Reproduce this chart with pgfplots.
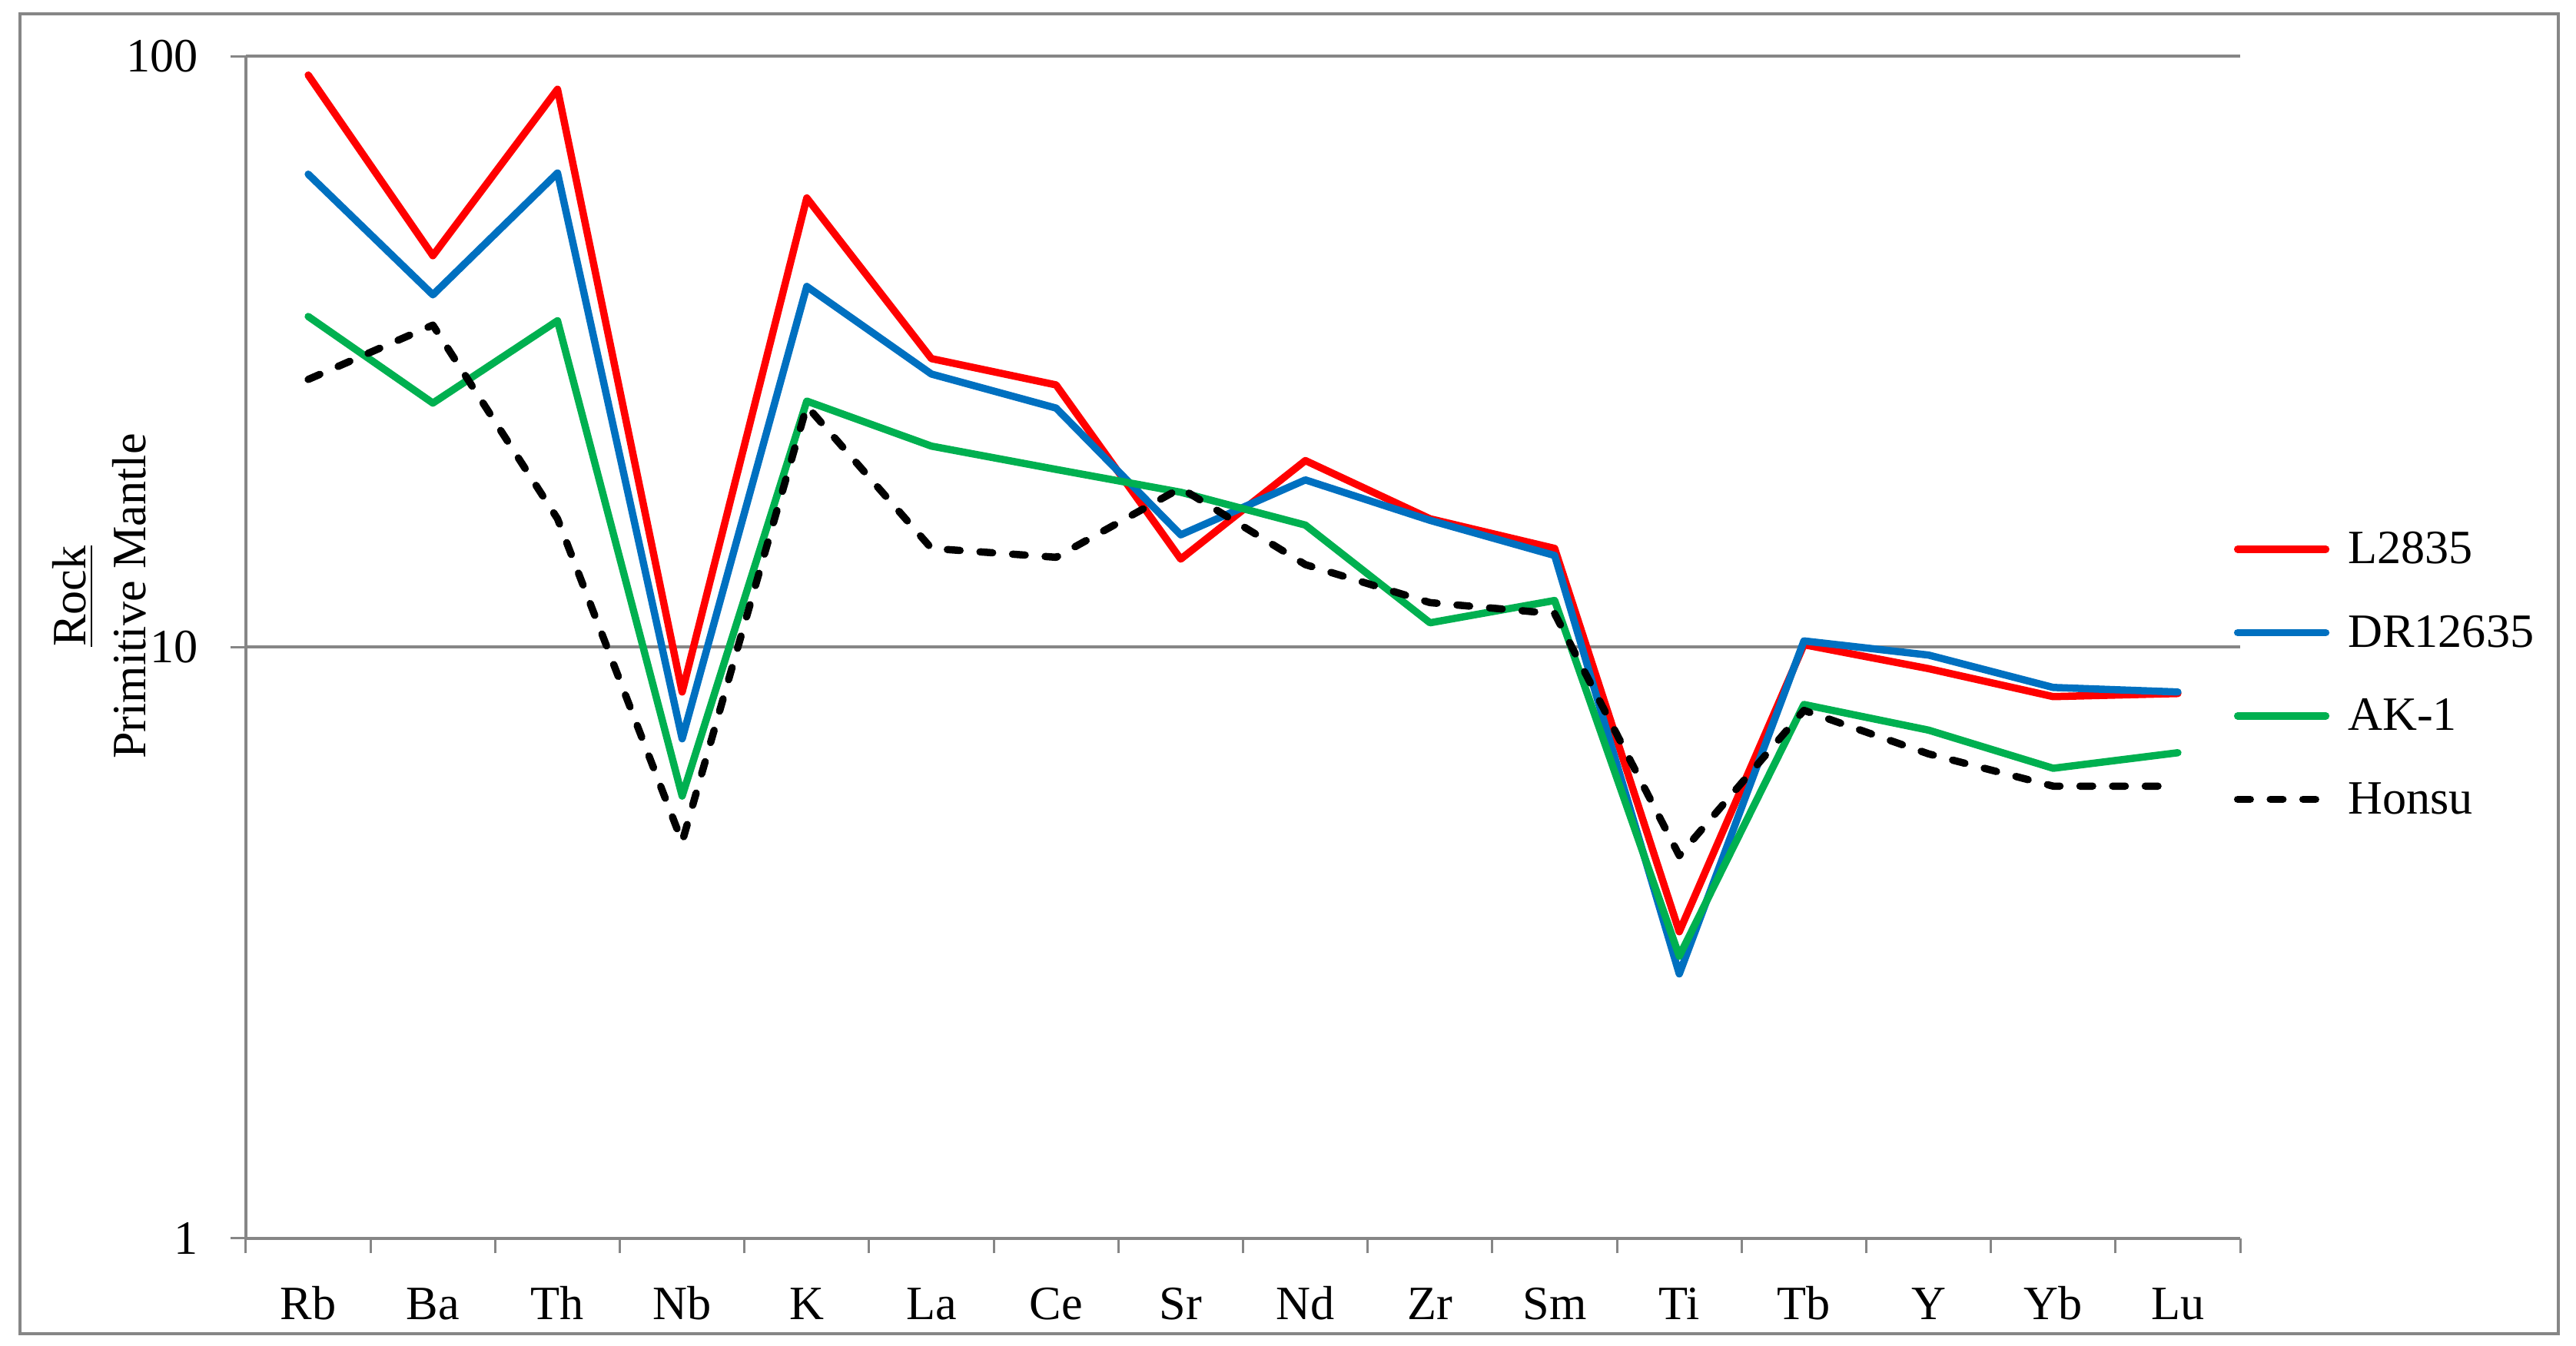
\documentclass[border=0pt]{standalone}
\usepackage{fontspec}
\setmainfont{Liberation Serif}
\usepackage{pgfplots}
\pgfplotsset{compat=1.18}
\definecolor{cRed}{RGB}{255,0,0}
\definecolor{cBlue}{RGB}{0,112,192}
\definecolor{cGreen}{RGB}{0,176,80}
\definecolor{cGray}{RGB}{134,134,134}
\begin{document}
\begin{tikzpicture}[font=\fontsize{12.5}{14.5}\selectfont]
\useasboundingbox (-64bp,-28.1bp) rectangle (606.4bp,322.3bp);
\draw[cGray, line width=0.8bp] (-58.8bp,-24.9bp) rectangle (601.8bp,318.7bp);
\begin{axis}[
  scale only axis, width=519bp, height=307.6bp,
  xmin=-0.5, xmax=15.5, ymode=log, ymin=1, ymax=100,
  axis x line*=bottom, axis y line*=left,
  axis line style={cGray, line width=0.8bp, -},
  xtick={-0.5,0.5,...,15.5}, xticklabels={},
  extra x ticks={0,1,2,3,4,5,6,7,8,9,10,11,12,13,14,15},
  extra x tick labels={Rb,Ba,Th,Nb,K,La,Ce,Sr,Nd,Zr,Sm,Ti,Tb,Y,Yb,Lu},
  extra x tick style={major tick length=0pt, grid=none},
  xticklabel style={anchor=base, inner sep=0pt, yshift=-21.1bp},
  ytick={1,10,100}, yticklabels={1,10,100},
  yminorticks=false,
  tick align=outside, tick pos=left,
  major tick length=4bp,
  tick style={cGray, line width=0.6bp},
  ymajorgrids, major grid style={cGray, line width=0.8bp},
  yticklabel style={anchor=east, inner sep=0pt, xshift=-8.3bp},
  /pgf/number format/assume math mode=true,
  legend style={at={(axis description cs:0.9965,0.5966)}, anchor=north west, draw=none, fill=none, inner sep=0pt, row sep=13.9bp, column sep=4.8bp, nodes={inner sep=0pt, text height=7.8bp, text depth=0pt, anchor=base west}},
  legend image code/.code={\draw[#1] (0.95bp,3.8bp) -- (23.9bp,3.8bp);},
  legend cell align=left,
  every axis plot/.append style={line width=1.9bp, line join=round, line cap=round},
]
\addplot[cRed] coordinates {(0,93.0) (1,46.0) (2,88.0) (3,8.4) (4,57.6) (5,30.8) (6,27.8) (7,14.1) (8,20.7) (9,16.5) (10,14.7) (11,3.3) (12,10.1) (13,9.2) (14,8.25) (15,8.35)};
\addlegendentry{L2835}
\addplot[cBlue] coordinates {(0,63.2) (1,39.5) (2,63.5) (3,7.0) (4,40.8) (5,29.0) (6,25.4) (7,15.5) (8,19.2) (9,16.4) (10,14.3) (11,2.8) (12,10.25) (13,9.7) (14,8.55) (15,8.4)};
\addlegendentry{DR12635}
\addplot[cGreen] coordinates {(0,36.3) (1,25.9) (2,35.7) (3,5.6) (4,26.1) (5,21.9) (6,20.0) (7,18.3) (8,16.1) (9,11.0) (10,12.0) (11,3.0) (12,8.0) (13,7.24) (14,6.24) (15,6.63)};
\addlegendentry{AK-1}
\addplot[black, dash pattern=on 3.3bp off 5.2bp] coordinates {(0,28.4) (1,35.1) (2,16.5) (3,4.68) (4,25.6) (5,14.7) (6,14.2) (7,18.6) (8,13.8) (9,11.9) (10,11.4) (11,4.44) (12,7.82) (13,6.6) (14,5.82) (15,5.82)};
\addlegendentry{Honsu}
\end{axis}
\node[rotate=90, align=center, inner sep=0pt, font=\fontsize{12.5}{15.6}\selectfont] at (-38.2bp,167.1bp) {\underline{Rock}\\Primitive Mantle};
\end{tikzpicture}
\end{document}
